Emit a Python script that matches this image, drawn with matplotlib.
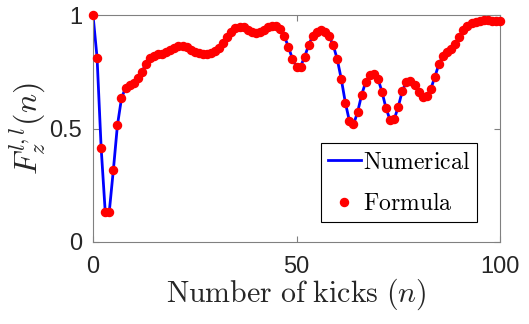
import matplotlib
matplotlib.use("Agg")
import matplotlib.pyplot as plt
import numpy as np

plt.rcParams['mathtext.fontset'] = 'cm'

kicks = list(range(0, 101))
numerical = [
    1.000, 0.812, 0.415, 0.134, 0.134, 0.317, 0.514, 0.633, 0.680, 0.692,
    0.702, 0.721, 0.750, 0.784, 0.809, 0.821, 0.827, 0.828, 0.835, 0.845,
    0.855, 0.865, 0.865, 0.857, 0.846, 0.838, 0.833, 0.830, 0.830, 0.832,
    0.840, 0.855, 0.878, 0.905, 0.925, 0.942, 0.948, 0.945, 0.935, 0.925,
    0.922, 0.925, 0.935, 0.945, 0.951, 0.950, 0.940, 0.907, 0.860, 0.807,
    0.772, 0.773, 0.816, 0.868, 0.909, 0.926, 0.934, 0.926, 0.907, 0.868,
    0.806, 0.718, 0.614, 0.533, 0.518, 0.571, 0.648, 0.705, 0.735, 0.738,
    0.720, 0.662, 0.589, 0.537, 0.540, 0.596, 0.665, 0.706, 0.708, 0.692,
    0.659, 0.640, 0.643, 0.674, 0.728, 0.784, 0.820, 0.835, 0.849, 0.871,
    0.903, 0.932, 0.950, 0.963, 0.970, 0.975, 0.977, 0.977, 0.975, 0.973,
    0.972,
]
formula = list(numerical)

x_ticks = [0, 50, 100]
x_tick_labels = ['0', '50', '100']
y_ticks = [0, 0.5, 1]
y_tick_labels = ['0', '0.5', '1']

W, H = 529, 324
fig = plt.figure(figsize=(W / 100, H / 100), dpi=100)
ax = fig.add_axes([93 / W, 82 / H, 407 / W, 227 / H])

ax.plot(kicks, numerical, color='#0000ff', lw=2.0, label=r'$\mathrm{Numerical}$', zorder=2)
ax.plot(kicks, formula, 'o', color='#ff0000', ms=5.8, ls='none',
        label=r'$\mathrm{Formula}$', zorder=3, clip_on=False)

ax.set_xlim(0, 100)
ax.set_ylim(0, 1)
ax.set_xticks(x_ticks)
ax.set_xticklabels(x_tick_labels)
ax.set_yticks(y_ticks)
ax.set_yticklabels(y_tick_labels)

for s in ax.spines.values():
    s.set_color('#808080')
    s.set_linewidth(0.8)

ax.tick_params(direction='in', length=4, width=0.8, color='#808080',
               top=True, right=True, labelsize=17)
ax.tick_params(axis='x', pad=10)
ax.tick_params(axis='y', pad=8)
for lab in ax.get_xticklabels() + ax.get_yticklabels():
    lab.set_fontfamily('Liberation Sans')
    lab.set_color('#262626')

ax.set_xlabel(r'$\mathrm{Number\ of\ kicks\ }(n)$', fontsize=21.5, labelpad=-1, color='#262626')
ax.set_ylabel(r'$F_z^{l,l}(n)$', fontsize=23, labelpad=1, color='#262626')

leg = ax.legend(loc='lower right', fontsize=17, frameon=True, fancybox=False,
                edgecolor='black', framealpha=1, handlelength=1.4,
                handletextpad=0.1, borderpad=0.28, labelspacing=0.75,
                borderaxespad=0, bbox_to_anchor=(477 / W, (H - 222) / H),
                bbox_transform=fig.transFigure)
leg.get_frame().set_linewidth(0.8)

fig.savefig('out.png', dpi=100)
